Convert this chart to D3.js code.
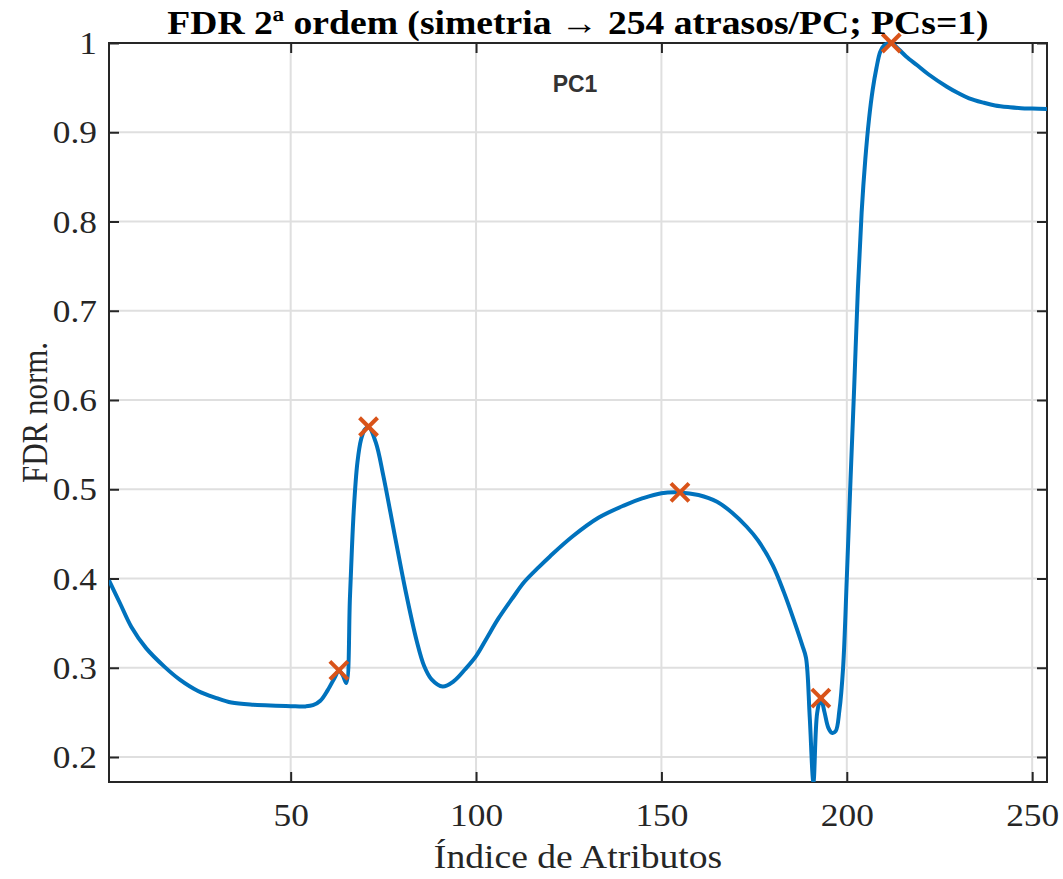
<!DOCTYPE html>
<html>
<head>
<meta charset="utf-8">
<script src="https://cdn.jsdelivr.net/npm/d3@7"></script>
<style>
  body { margin: 0; background: #fff; }
  svg { display: block; }
  .wide { transform-box: fill-box; transform-origin: center; transform: scaleX(1.14); }
  .wide-r { transform-box: fill-box; transform-origin: right center; transform: scaleX(1.14); }
</style>
</head>
<body>
<div id="chart"></div>
<script>
// attribute index and normalised FDR value
const indices = [1, 4, 7, 11, 16, 20, 25, 30, 34, 40, 46, 50, 54, 56, 58, 60, 62, 63, 64, 65,
  66, 67, 68, 69, 70, 71, 73, 75, 78, 81, 84, 86, 88, 91, 94, 97, 100, 103, 106, 110,
  113, 117, 120, 126, 133, 140, 145, 150, 155, 160, 165, 169, 173, 176, 180, 183, 186,
  188, 189, 190, 191, 192, 193, 194, 195, 196, 197, 198, 199, 200, 201, 202, 203, 204,
  205, 206, 207, 208, 209, 210, 211, 212, 214, 216, 219, 222, 227, 230, 233, 237, 240,
  244, 247, 250, 254];
const fdrValues = [0.398, 0.372, 0.346, 0.322, 0.301, 0.287, 0.274, 0.266, 0.261, 0.2585, 0.2575, 0.257, 0.2567, 0.258, 0.263, 0.275, 0.290, 0.297, 0.292, 0.283,
  0.38, 0.475, 0.53, 0.556, 0.567, 0.570, 0.552, 0.515, 0.45, 0.386, 0.33, 0.302, 0.287, 0.279, 0.285, 0.298, 0.313, 0.334, 0.355, 0.379,
  0.396, 0.413, 0.425, 0.447, 0.468, 0.482, 0.490, 0.4956, 0.4965, 0.4935, 0.486, 0.474, 0.458, 0.443, 0.415, 0.385, 0.35,
  0.325, 0.311, 0.245, 0.172, 0.249, 0.266, 0.25, 0.233, 0.227, 0.229, 0.252, 0.30, 0.40, 0.51, 0.615, 0.725, 0.81,
  0.87, 0.915, 0.948, 0.972, 0.99, 0.997, 0.9995, 1.0, 0.993, 0.985, 0.975, 0.965, 0.951, 0.944, 0.938, 0.933, 0.930,
  0.928, 0.927, 0.9265, 0.926];

// selected peaks (orange crosses)
const peakIdx = [63, 71, 155, 193, 212];
const peakVal = [0.297, 0.570, 0.4965, 0.266, 1.0];

const xTicks = [50, 100, 150, 200, 250];
const yTicks = [0.2, 0.3, 0.4, 0.5, 0.6, 0.7, 0.8, 0.9, 1];

const W = 1063, H = 879;
const margin = { top: 43, right: 16, bottom: 97, left: 109 };
const plotW = W - margin.left - margin.right;
const plotH = H - margin.top - margin.bottom;

const serif = "'Liberation Serif', 'Times New Roman', serif";
const axisColor = "#262626";

const svg = d3.select("#chart").append("svg")
  .attr("width", W).attr("height", H);

const x = d3.scaleLinear().domain([1, 254]).range([margin.left, margin.left + plotW]);
const y = d3.scaleLinear().domain([0.172, 1]).range([margin.top + plotH, margin.top]);

// grid
svg.append("g").selectAll("line").data(xTicks).join("line")
  .attr("x1", d => x(d)).attr("x2", d => x(d))
  .attr("y1", margin.top).attr("y2", margin.top + plotH)
  .attr("stroke", "#dfdfdf").attr("stroke-width", 2);
svg.append("g").selectAll("line").data(yTicks).join("line")
  .attr("x1", margin.left).attr("x2", margin.left + plotW)
  .attr("y1", d => y(d)).attr("y2", d => y(d))
  .attr("stroke", "#dfdfdf").attr("stroke-width", 2);

// axes (bottom/left with labels, top/right mirrored ticks)
const tickLen = 10;
const xAxis = svg.append("g")
  .attr("transform", `translate(0,${margin.top + plotH})`)
  .call(d3.axisBottom(x).tickValues(xTicks).tickSizeInner(-tickLen).tickSizeOuter(0).tickPadding(22));
const xAxisTop = svg.append("g")
  .attr("transform", `translate(0,${margin.top})`)
  .call(d3.axisTop(x).tickValues(xTicks).tickSizeInner(-tickLen).tickSizeOuter(0).tickFormat(""));
const yAxis = svg.append("g")
  .attr("transform", `translate(${margin.left},0)`)
  .call(d3.axisLeft(y).tickValues(yTicks).tickSizeInner(-tickLen).tickSizeOuter(0).tickPadding(12)
    .tickFormat(d => d === 1 ? "1" : d3.format(".1f")(d)));
const yAxisRight = svg.append("g")
  .attr("transform", `translate(${margin.left + plotW},0)`)
  .call(d3.axisRight(y).tickValues(yTicks).tickSizeInner(-tickLen).tickSizeOuter(0).tickFormat(""));

[xAxis, xAxisTop, yAxis, yAxisRight].forEach(g => {
  g.select(".domain").remove();
  g.selectAll(".tick line").attr("stroke", axisColor).attr("stroke-width", 2);
  g.selectAll("text").attr("fill", axisColor).style("font-family", serif).style("font-size", "31px");
});
xAxis.selectAll("text").attr("class", "wide");
yAxis.selectAll("text").attr("dy", "0.34em").attr("class", "wide-r");

// box
svg.append("rect")
  .attr("x", margin.left).attr("y", margin.top)
  .attr("width", plotW).attr("height", plotH)
  .attr("fill", "none").attr("stroke", axisColor).attr("stroke-width", 2);

// curve
svg.append("clipPath").attr("id", "plotClip").append("rect")
  .attr("x", margin.left).attr("y", margin.top - 2)
  .attr("width", plotW).attr("height", plotH + 2);

const points = indices.map((d, i) => [d, fdrValues[i]]);
const line = d3.line().x(d => x(d[0])).y(d => y(d[1])).curve(d3.curveCatmullRom.alpha(0.5));

svg.append("path")
  .datum(points)
  .attr("clip-path", "url(#plotClip)")
  .attr("d", line)
  .attr("fill", "none")
  .attr("stroke", "#0072BD")
  .attr("stroke-width", 4)
  .attr("stroke-linejoin", "round");

// peak markers
const mk = 9;
const peaks = svg.append("g").selectAll("g").data(peakIdx.map((d, i) => [d, peakVal[i]])).join("g")
  .attr("transform", d => `translate(${x(d[0])},${y(d[1])})`);
peaks.append("path")
  .attr("d", `M${-mk},${-mk}L${mk},${mk}M${-mk},${mk}L${mk},${-mk}`)
  .attr("stroke", "#D95319").attr("stroke-width", 4).attr("fill", "none");

// annotation
svg.append("text")
  .attr("x", 575).attr("y", 92)
  .attr("text-anchor", "middle")
  .attr("fill", "#333")
  .style("font-family", "'Liberation Sans', Arial, sans-serif")
  .style("font-weight", "bold")
  .style("font-size", "23px")
  .text("PC1");

// title and axis labels
svg.append("text")
  .attr("class", "wide")
  .attr("x", margin.left + plotW / 2).attr("y", 34)
  .attr("text-anchor", "middle")
  .attr("fill", "#000")
  .style("font-family", serif).style("font-weight", "bold").style("font-size", "33px")
  .text("FDR 2ª ordem (simetria → 254 atrasos/PC; PCs=1)");

svg.append("text")
  .attr("class", "wide")
  .attr("x", margin.left + plotW / 2).attr("y", 868)
  .attr("text-anchor", "middle")
  .attr("fill", axisColor)
  .style("font-family", serif).style("font-size", "33px")
  .text("Índice de Atributos");

svg.append("text")
  .attr("transform", `translate(47,${margin.top + plotH / 2}) rotate(-90) scale(1,1.14)`)
  .attr("text-anchor", "middle")
  .attr("fill", axisColor)
  .style("font-family", serif).style("font-size", "31px")
  .text("FDR norm.");
</script>
</body>
</html>
